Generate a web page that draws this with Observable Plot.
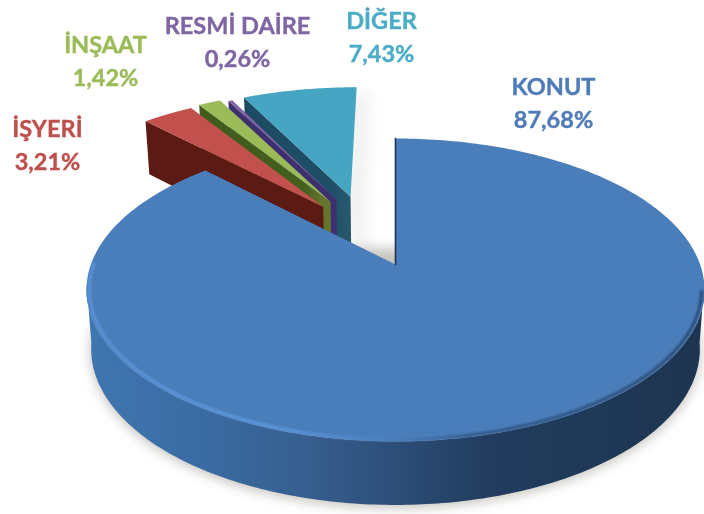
<!DOCTYPE html>
<html><head><meta charset="utf-8">
<style>html,body{margin:0;padding:0;background:#fff}svg{display:block}</style>
<script src="https://cdn.jsdelivr.net/npm/d3@7"></script>
<script src="https://cdn.jsdelivr.net/npm/@observablehq/plot@0.6"></script>
</head><body><div id="chart"></div>
<script>
// Data (clockwise from 12 o'clock)
const categories = ["KONUT", "İŞYERİ", "İNŞAAT", "RESMİ DAİRE", "DİĞER"];
const percents = [87.68, 3.21, 1.42, 0.26, 7.43];
const percentLabels = ["87,68%", "3,21%", "1,42%", "0,26%", "7,43%"];

// Styles and layout
const topColors = ["#4a7ebb", "#c2504c", "#9bbb59", "#8064a2", "#45a5c2"];
const labelColors = ["#4f7cb6", "#bf4f4c", "#9bbb59", "#7f66a3", "#4bacc6"];
const wallFills = [null, "#5c1a14", "url(#wGreen)", "#3d2f70", "url(#wTeal)"];
const explode = [[0, 0], [-0.254, 0.42], [-0.23, 0.46], [-0.21, 0.48], [-0.16, 0.5]];
const radii = [1, 1.04, 1.03, 1, 1.01];
const labelX = [553, 47, 105, 237, 381];
const labelY = [100.5, 142, 58.5, 39, 34.5];

// Perspective disc projection
const cx = 395, a = 304.6, A = -102.8, B = 264, k = 0.168, D = 58;
function project(X, Y, lower = false) {
  const den = 1 + k * Y;
  const s = lower ? 0.985 : 1;
  return {
    x: cx + s * a * X / den,
    y: (A * Y + B) / den + (lower ? D * Math.pow(den, -0.5) : 0)
  };
}
const onRim = (t, o, lower, r = 1) => project(r * Math.sin(t) + o[0], r * Math.cos(t) + o[1], lower);
const arc = (t0, t1, o, lower, n = 120, r = 1) =>
  d3.range(n + 1).map(i => onRim(t0 + (t1 - t0) * i / n, o, lower, r));

const arcs = d3.pie().sort(null).value(d => d)(percents);
const poly = (pts, fill, extra = {}) =>
  Plot.line(pts, {x: "x", y: "y", fill, stroke: "none", curve: "linear-closed", ...extra});

const defs = () => {
  const d = d3.create("svg:defs");
  const grad = (id, stops, x1, x2) => {
    const g = d.append("linearGradient").attr("id", id);
    if (x1 !== undefined) g.attr("gradientUnits", "userSpaceOnUse").attr("x1", x1).attr("x2", x2).attr("y1", 0).attr("y2", 0);
    stops.forEach(([o, c]) => g.append("stop").attr("offset", o).attr("stop-color", c));
  };
  grad("wMain", [[0, "#4076b0"], [0.18, "#3a6ca3"], [0.35, "#375f90"], [0.5, "#2d4e78"], [0.65, "#213c5e"], [1, "#1d3550"]], 87, 704);
  grad("rim", [[0, "#5a94d8"], [0.3, "#5e9ae0"], [0.5, "#4a7ebb"], [0.62, "#34598a"], [1, "#2a4a72"]], 87, 704);
  grad("wGreen", [[0, "#3f5c1c"], [0.8, "#44601e"], [0.93, "#66752c"], [1, "#66752c"]]);
  grad("wTeal", [[0, "#1c4a62"], [0.8, "#1f4f66"], [1, "#28596e"]]);
  return d.node();
};

const marks = [defs];

// Soft ground shadow
marks.push(poly(arc(1.0, 5.3, [0, -0.015], true), "#8f8a80", {imageFilter: "blur(6px)", fillOpacity: 0.5}));
marks.push(poly([...arc(-0.55, 0, [-0.1, 0.45]), project(-0.1, 0.45, true)], "#bbb", {imageFilter: "blur(6px)", fillOpacity: 0.18}));

// Exploded slices, back to front
[4, 3, 2, 1].forEach(i => {
  const {startAngle: t0, endAngle: t1} = arcs[i];
  const o = explode[i], r = radii[i];
  const apex = project(o[0], o[1]);
  const apexLow = project(o[0], o[1], true);
  const corner = onRim(t0, o, false, r);
  const cornerLow = onRim(t0, o, true, r);
  marks.push(poly([corner, apex, apexLow, cornerLow], wallFills[i]));
  marks.push(poly([apex, ...arc(t0, t1, o, false, 40, r)], topColors[i]));
});

// Main slice
const main = arcs[0], none = [0, 0];
marks.push(poly([...arc(1.7, 4.58, none, false, 200), ...arc(1.7, 4.58, none, true, 200).reverse()], "url(#wMain)"));
marks.push(poly([project(0, 0), ...arc(main.startAngle, main.endAngle, none, false, 300)], topColors[0]));
marks.push(Plot.line(arc(1.75, 4.72, none, false, 200, 0.991), {x: "x", y: "y", stroke: "url(#rim)", strokeWidth: 3, imageFilter: "blur(1px)"}));
marks.push(Plot.line([project(0, 1), project(0, 0)], {x: "x", y: "y", stroke: "#1d3550", strokeWidth: 1.6}));

// Labels
const labels = categories.map((c, i) => ({t: `${c}\n${percentLabels[i]}`, x: labelX[i], y: labelY[i], c: labelColors[i]}));
marks.push(Plot.text(labels, {
  x: "x", y: "y", text: "t", fill: d => d.c, stroke: d => d.c, strokeWidth: 0.4,
  fontFamily: "Lato", fontWeight: "bold", fontSize: 23.5, lineHeight: 1.42
}));

const chart = Plot.plot({
  width: 704, height: 514,
  margin: 0,
  x: {domain: [0, 704], range: [0, 704], axis: null},
  y: {domain: [0, 514], range: [0, 514], axis: null},
  color: {type: "identity"},
  style: {background: "#fff", filter: "blur(0.4px)"},
  marks
});
document.getElementById("chart").append(chart);
</script></body></html>
